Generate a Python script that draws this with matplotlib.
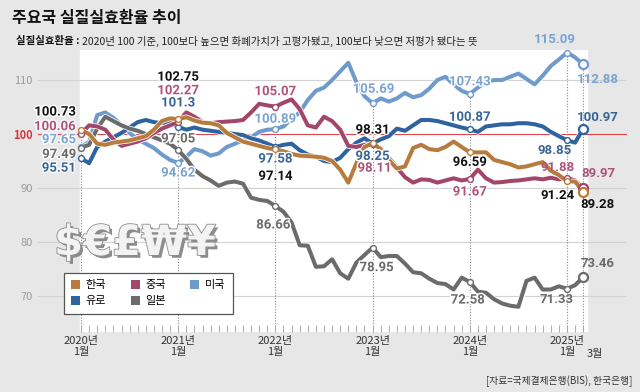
import matplotlib
matplotlib.use("Agg")
import matplotlib.pyplot as plt
import matplotlib.patheffects as pe
from matplotlib.patches import Patch

plt.rcParams['font.family'] = ['Noto Sans CJK KR', 'DejaVu Sans']

# 2020년 1월 ~ 2025년 3월, 월별 (63개)
months = list(range(63))
year_labels = ['2020년\n1월', '2021년\n1월', '2022년\n1월', '2023년\n1월', '2024년\n1월', '2025년\n1월']
label_months = [0, 12, 24, 36, 48, 60, 62]

korea = [100.73, 100.0, 98.2, 98.0, 98.4, 98.6, 98.8, 99.2, 99.6, 100.8, 102.4, 102.9,
         102.75, 103.1, 102.5, 102.1, 102.0, 101.6, 100.2, 99.4, 98.6, 98.2, 97.8, 97.4,
         97.14, 96.8, 96.3, 96.0, 95.9, 95.8, 95.6, 95.0, 93.4, 91.0, 94.6, 97.6,
         98.31, 97.2, 95.2, 93.6, 94.0, 97.4, 98.0, 97.2, 97.0, 97.6, 98.6, 97.6,
         96.59, 96.6, 96.6, 95.2, 94.8, 94.4, 93.8, 94.0, 94.4, 94.8, 93.2, 92.4,
         91.24, 91.2, 89.28]
china = [100.06, 101.6, 101.4, 100.8, 99.0, 97.8, 98.2, 98.6, 99.2, 100.2, 101.0, 101.6,
         102.27, 104.0, 103.2, 102.2, 102.0, 102.2, 102.3, 102.4, 102.6, 104.0, 105.6, 105.3,
         105.07, 105.8, 106.4, 104.6, 101.6, 101.2, 103.2, 102.4, 100.8, 97.8, 97.6, 98.0,
         98.11, 97.4, 95.6, 93.8, 92.0, 91.0, 91.6, 91.5, 91.0, 91.4, 91.8, 91.4,
         91.67, 93.4, 91.8, 91.0, 91.1, 91.3, 91.4, 91.6, 91.8, 91.6, 91.9, 91.6,
         91.88, 91.4, 89.97]
usa = [97.65, 98.5, 103.5, 104.0, 103.0, 101.6, 100.2, 99.0, 98.2, 97.4, 96.2, 95.2,
       94.62, 95.8, 97.2, 96.8, 96.0, 96.4, 97.6, 98.2, 98.8, 99.4, 100.4, 100.8,
       100.89, 101.4, 102.8, 104.0, 106.3, 108.0, 108.6, 110.0, 111.6, 113.2, 109.6, 107.0,
       105.69, 106.6, 106.0, 106.6, 107.6, 106.8, 107.2, 108.4, 110.0, 110.6, 109.2, 108.0,
       107.43, 108.6, 109.6, 110.0, 110.0, 110.6, 111.2, 110.2, 109.2, 110.8, 112.6, 113.8,
       115.09, 114.2, 112.88]
euro = [95.51, 94.6, 97.6, 98.6, 99.4, 100.2, 101.2, 102.2, 102.6, 102.2, 102.0, 102.2,
        101.3, 100.8, 101.2, 100.8, 100.6, 100.4, 100.2, 100.0, 99.8, 99.2, 98.8, 98.2,
        97.58, 98.0, 98.2, 97.0, 96.2, 95.8, 95.0, 94.8, 95.6, 97.2, 98.4, 99.2,
        98.25, 99.0, 99.6, 101.0, 100.6, 101.6, 102.6, 102.6, 102.4, 102.0, 101.6, 101.2,
        100.87, 100.4, 101.4, 101.6, 101.8, 101.8, 102.0, 102.0, 101.8, 101.4, 100.4, 99.6,
        98.85, 98.4, 100.97]
japan = [97.49, 98.0, 101.0, 103.2, 102.4, 101.6, 101.0, 100.6, 100.0, 99.4, 98.8, 98.2,
         97.05, 95.4, 93.4, 92.2, 91.4, 90.4, 91.0, 91.2, 90.8, 88.2, 87.8, 87.6,
         86.66, 85.6, 83.6, 79.4, 79.3, 75.4, 75.5, 76.8, 74.2, 73.2, 76.2, 77.6,
         78.95, 77.2, 77.4, 77.4, 76.0, 74.4, 74.2, 73.2, 72.4, 72.2, 71.2, 73.4,
         72.58, 70.8, 70.6, 69.4, 68.6, 68.2, 68.0, 72.8, 73.4, 71.2, 71.2, 71.8,
         71.33, 72.0, 73.46]

# (이름, 값, 선색, 라벨색, 라벨 위치(px))
series = [
    ('미국', usa, '#6f9bcc', '#7aa3d2',
     {0: (-5, 7), 12: (0, -10), 24: (0, 10), 36: (1, 14), 48: (0, 12), 60: (-12, 13), 62: (15, -15)}),
    ('유로', euro, '#2f63a0', '#3a6598',
     {0: (-5, -10), 12: (0, 24), 24: (0, -12), 36: (0, -13), 48: (0, 12), 60: (-12, -10), 62: (15, 11)}),
    ('일본', japan, '#6b6b6b', '#6b6b6b',
     {0: (-5, -7), 12: (0, 11), 24: (-2, -19), 36: (4, -20), 48: (-2, -18), 60: (-10, -11), 62: (14, 14)}),
    ('중국', china, '#a3476a', '#b0537a',
     {0: (-5, 7), 12: (0, 31), 24: (0, 15), 36: (2, -24), 48: (0, -13), 60: (-9, 10), 62: (15, 15)}),
    ('한국', korea, '#b77b3d', '#111111',
     {0: (-5, 18), 12: (0, 42), 24: (0, -27), 36: (0, 13), 48: (0, -10), 60: (-9, -14), 62: (14, -13)}),
]

bg = '#e7e7e8'
fig = plt.figure(figsize=(6.4, 3.92), dpi=100, facecolor=bg)
ax = fig.add_axes([38 / 640, 1 - 332 / 392, 589 / 640, 282 / 392])
ax.set_facecolor(bg)
ax.set_xlim(-5.31, 67.41)
ax.set_ylim(63.33, 115.56)
for s in ax.spines.values():
    s.set_visible(False)

ax.axvspan(-0.12, 62.47, color='white', zorder=0)
for v in [70, 80, 90, 110]:
    ax.axhline(v, color='#d2d2d2', lw=0.8, zorder=1)
ax.axhline(100, color='#d9464b', lw=0.8, zorder=1)

# 기준 월 점선
for m in label_months:
    top = max(s[1][m] for s in series)
    ax.plot([m, m], [63.33, top], color='#8a8a8a', lw=0.8, ls=(0, (1, 1.5)), zorder=1)

for name, vals, col, lcol, offs in series:
    ax.plot(months, vals, color=col, lw=2.9, solid_joinstyle='round', solid_capstyle='round',
            zorder=3, path_effects=[pe.Stroke(linewidth=4.0, foreground='white'), pe.Normal()])
    for m, (dx, dy) in offs.items():
        big = m == 62
        ax.plot(m, vals[m], 'o', ms=6.5 if big else 4.2, mfc='white', mec=col,
                mew=1.6 if big else 1.0, zorder=4)
        ax.annotate('%g' % vals[m], (m, vals[m]), xytext=(dx, dy), textcoords='offset pixels',
                    ha='right' if m == 0 else 'center', va='center', fontsize=9.5,
                    fontweight='bold', family=['Roboto', 'DejaVu Sans'], color=lcol, zorder=5,
                    path_effects=[pe.withStroke(linewidth=2, foreground='white')] if m not in (60, 62) else None)

# 축
ax.set_yticks([70, 80, 90, 100, 110])
ax.set_yticklabels(['70', '80', '90', '100', '110'])
ax.tick_params(axis='y', length=0, pad=4, labelsize=8, labelcolor='#9a9a9a')
for t in ax.get_yticklabels():
    if t.get_text() == '100':
        t.set_color('#d9343a')
        t.set_fontweight('bold')
ax.set_xticks(label_months[:-1])
ax.set_xticklabels(year_labels, fontsize=8, color='#333333', linespacing=1.15)
ax.set_xticks(months, minor=True)
ax.tick_params(axis='x', which='both', direction='in', length=5, width=0.6, color='#a0a0a0', pad=3)
ax.annotate('3월', xy=(label_months[-1], 0), xycoords=('data', 'axes fraction'),
            xytext=(12, -22), textcoords='offset pixels', ha='center', va='center',
            fontsize=8, color='#333333')

# 장식 문자
fig.text(135 / 640, 1 - 243 / 392, '$€£₩¥', ha='center', va='center',
         fontsize=30, fontweight='bold', family='DejaVu Sans', color='#f3f3f3', zorder=2,
         path_effects=[pe.SimplePatchShadow(offset=(2, -2), shadow_rgbFace='#8c8c8c', alpha=1),
                       pe.Stroke(linewidth=1.2, foreground='#8c8c8c'), pe.Normal()])

# 범례
hmap = {s[0]: s[2] for s in series}
order = ['한국', '유로', '중국', '일본', '미국']
handles = [Patch(facecolor=hmap[n], edgecolor='none', label=n) for n in order]
leg = ax.legend(handles=handles, ncol=3, loc='upper left', bbox_to_anchor=(58 / 640, 1 - 267 / 392),
                bbox_transform=fig.transFigure, fontsize=8, handlelength=0.8, handleheight=0.8,
                handletextpad=0.5, columnspacing=2.2, borderpad=0.7, labelspacing=0.5,
                fancybox=False, edgecolor='#555555', framealpha=1)
leg.get_frame().set_linewidth(0.9)
leg.set_zorder(6)

# 제목
fig.text(12 / 640, 1 - 18 / 392, '주요국 실질실효환율 추이', fontsize=11.5, fontweight='bold',
         color='#111111', va='center')
t1 = fig.text(16 / 640, 1 - 41 / 392, '실질실효환율 : ', fontsize=7.5, fontweight='bold',
              color='#111111', va='center')
fig.canvas.draw()
bb = t1.get_window_extent()
fig.text(bb.x1 / 640, 1 - 41 / 392,
         '2020년 100 기준, 100보다 높으면 화폐가치가 고평가됐고, 100보다 낮으면 저평가 됐다는 뜻',
         fontsize=7.5, color='#222222', va='center')
fig.text(632 / 640, 1 - 381 / 392, '[자료=국제결제은행(BIS), 한국은행]', fontsize=7,
         color='#333333', ha='right', va='center')

fig.savefig('out.png', dpi=100, facecolor=bg)
